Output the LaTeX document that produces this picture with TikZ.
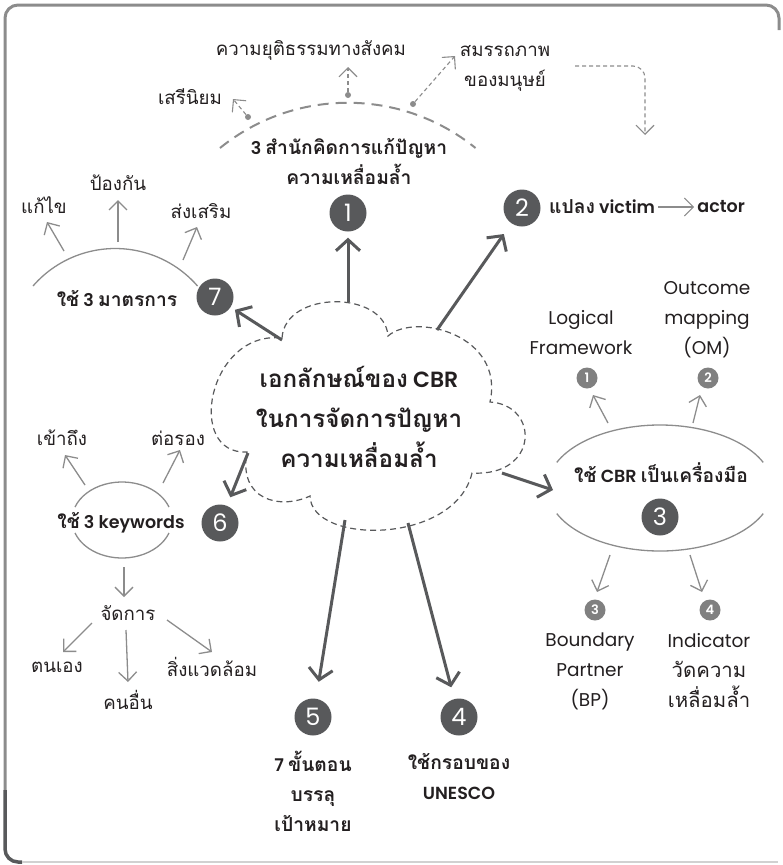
\documentclass[tikz,border=0pt]{standalone}
\usepackage{fontspec}
\setmainfont{Poppins}[BoldFont={Poppins SemiBold}]
\newfontfamily\thf[Script=Thai,Scale=1.1]{Loma}
\newcommand\tx[1]{{\thf #1}}
\usetikzlibrary{arrows.meta}
\definecolor{dk}{HTML}{58595B}
\definecolor{txt}{HTML}{231F20}
\definecolor{gr}{HTML}{8C8C8C}
\definecolor{sm}{HTML}{808080}
\begin{document}
\begin{tikzpicture}[x=1pt,y=1pt,
  barr/.style={draw=dk, line width=3pt, -{Straight Barb[length=11pt,width=24pt]}},
  garr/.style={draw=gr, line width=1.3pt, -{Straight Barb[length=9pt,width=18pt]}},
  dgarr/.style={garr, line width=1.1pt, dash pattern=on 4pt off 3pt},
  gline/.style={draw=gr, line width=1.3pt},
  num/.style={circle, fill=dk, text=white, minimum size=37pt, inner sep=0pt, font=\fontsize{24}{24}\selectfont},
  snum/.style={circle, fill=sm, text=white, minimum size=21pt, inner sep=0pt, font=\bfseries\fontsize{13}{13}\selectfont},
  lbl/.style={text=txt, align=center, inner sep=0pt, font=\fontsize{17}{30}\selectfont},
  llbl/.style={text=txt, align=center, inner sep=0pt, font=\fontsize{18.5}{30}\selectfont},
  blbl/.style={text=txt, align=center, inner sep=0pt, font=\bfseries\fontsize{17.5}{30}\selectfont},
  cl/.style={text=txt, align=center, inner sep=0pt, font=\bfseries\fontsize{22}{40}\selectfont},
  dot/.style={circle, fill=gr, inner sep=0pt, minimum size=6pt}
]
\useasboundingbox (0,0) rectangle (783,-865);

% frame
\draw[draw=gr, line width=3pt] (5,-790) -- (5,-18) arc[start angle=180,end angle=90,radius=13] -- (766,-5) arc[start angle=90,end angle=0,radius=13] -- (779,-30);
\draw[draw=dk, line width=3.5pt] (5,-790) -- (5,-849) arc[start angle=180,end angle=270,radius=13] -- (22,-862);
\draw[draw=black!18, line width=1.2pt] (22,-862) -- (778,-862);

% cloud
\draw[draw=dk, line width=1.2pt, dash pattern=on 6pt off 4pt]
  (282,-338) .. controls (285,-290) and (385,-290) .. (388,-336)
  .. controls (415,-312) and (505,-335) .. (490,-402)
  .. controls (540,-405) and (539,-477) .. (472,-473)
  .. controls (455,-545) and (311,-545) .. (310,-496)
  .. controls (280,-510) and (238,-500) .. (247,-452)
  .. controls (185,-455) and (208,-330) .. (282,-338);
\node[cl] (cloud) at (359,-417) {\tx{เอกลักษณ์ของ} CBR\\\tx{ในการจัดการปัญหา}\\\tx{ความเหลื่อมล้ำ}};
\coordinate (cA) at (348,-302);
\coordinate (cB) at (437,-330);
\coordinate (cC) at (282,-340);
\coordinate (cD) at (248,-453);
\coordinate (cE) at (502,-473);
\coordinate (cF) at (345,-520);
\coordinate (cG) at (408,-523);

% numbered circles
\node[num] (n1) at (348,-213) {1};
\node[num] (n2) at (522,-208) {2};
\node[num] (n3) at (660,-517) {3};
\node[num] (n4) at (459,-717) {4};
\node[num] (n5) at (313,-717) {5};
\node[num] (n6) at (220,-523) {6};
\node[num] (n7) at (215,-297) {7};

% thick arrows
\draw[barr, shorten >=6pt] (cA) -- (n1);
\draw[barr, shorten >=13pt] (cB) -- (n2);
\draw[barr, shorten >=5pt] (cC) -- (n7);
\draw[barr, shorten >=9pt] (cD) -- (n6);
\coordinate (e3tip) at (553,-490);
\draw[barr] (cE) -- (e3tip);
\draw[barr, shorten >=17pt] (cF) -- (n5);
\draw[barr, shorten >=12pt] (cG) -- (n4);

% ---- top: 3 schools
\draw[draw=gr, line width=2pt, dash pattern=on 11pt off 7pt] (220,-148) arc[start angle=129, end angle=51, radius=203];
\node[blbl] (t1) at (349,-162) {3 \tx{สำนักคิดการแก้ปัญหา}\\\tx{ความเหลื่อมล้ำ}};
\node[dot] (d1) at (248,-117) {};
\node[dot] (d2) at (348,-95) {};
\node[dot] (d3) at (413,-104) {};
\node[lbl] (lib) at (190,-97) {\tx{เสรีนิยม}};
\node[lbl] (soc) at (311,-50) {\tx{ความยุติธรรมทางสังคม}};
\node[lbl] (capb) at (505,-68) {\tx{สมรรถภาพ}\\\tx{ของมนุษย์}};
\coordinate (d1t) at (233,-99);
\coordinate (d2t) at (348,-67);
\coordinate (d3t) at (455,-56);
\draw[dgarr] (d1) -- (d1t);
\draw[dgarr] (d2) -- (d2t);
\draw[dgarr] (d3) -- (d3t);
\coordinate (el0) at (575,-66);
\coordinate (el1) at (645,-66);
\coordinate (el2) at (645,-135);
\draw[dgarr, rounded corners=12pt] (el0) -- (el1) -- (el2);

% ---- 2
\node[blbl, anchor=west] (vic) at (549,-207) {\tx{แปลง} victim};
\node[blbl, anchor=west] (act) at ([xshift=42pt]vic.east) {actor};
\draw[garr, line width=1.1pt, shorten <=3pt, shorten >=3pt] (vic.east) -- (act.west);

% ---- 7: three measures
\draw[gline] (33,-286) arc[start angle=139, end angle=41, radius=109];
\node[blbl] (m7) at (117,-298) {\tx{ใช้} 3 \tx{มาตรการ}};
\node[lbl] (fix) at (44,-205) {\tx{แก้ไข}};
\node[lbl] (prev) at (118,-183) {\tx{ป้องกัน}};
\node[lbl] (prom) at (201,-211) {\tx{ส่งเสริม}};
\coordinate (a71) at (64,-251); \coordinate (a71t) at (47,-222);
\coordinate (a72) at (118,-242); \coordinate (a72t) at (118,-200);
\coordinate (a73) at (183,-260); \coordinate (a73t) at (197,-227);
\draw[garr] (a71) -- (a71t);
\draw[garr] (a72) -- (a72t);
\draw[garr] (a73) -- (a73t);

% ---- 6: three keywords
\draw[gline] (122,-520) ++(20:50 and 38) arc[start angle=20,end angle=160,x radius=50,y radius=38];
\draw[gline] (122,-520) ++(200:50 and 38) arc[start angle=200,end angle=340,x radius=50,y radius=38];
\node[blbl] (k6) at (121,-523) {\tx{ใช้} 3 keywords};
\node[lbl] (acc) at (62,-438) {\tx{เข้าถึง}};
\node[lbl] (neg) at (178,-438) {\tx{ต่อรอง}};
\node[lbl] (man) at (128,-613) {\tx{จัดการ}};
\node[lbl] (self) at (57,-667) {\tx{ตนเอง}};
\node[lbl] (oth) at (128,-700) {\tx{คนอื่น}};
\node[lbl] (env) at (212,-667) {\tx{สิ่งแวดล้อม}};
\coordinate (a61) at (85,-485); \coordinate (a61t) at (65,-455);
\coordinate (a62) at (163,-483); \coordinate (a62t) at (180,-450);
\coordinate (a63) at (124,-567); \coordinate (a63t) at (124,-597);
\draw[garr] (a61) -- (a61t);
\draw[garr] (a62) -- (a62t);
\draw[garr] (a63) -- (a63t);
\coordinate (b1) at (92,-623); \coordinate (b1t) at (63,-652);
\coordinate (b2) at (126,-630); \coordinate (b2t) at (128,-682);
\coordinate (b3) at (167,-620); \coordinate (b3t) at (212,-652);
\draw[garr] (b1) -- (b1t);
\draw[garr] (b2) -- (b2t);
\draw[garr] (b3) -- (b3t);

% ---- 3: CBR as a tool
\draw[gline] (660,-488) ++(24:113 and 63) arc[start angle=24,end angle=156,x radius=113,y radius=63];
\draw[gline] (660,-488) ++(204:113 and 63) arc[start angle=204,end angle=336,x radius=113,y radius=63];
\node[blbl] (tool) at (661,-473) {\tx{ใช้} CBR \tx{เป็นเครื่องมือ}};
\node[snum] (s1) at (587,-378) {1};
\node[snum] (s2) at (708,-378) {2};
\node[snum] (s3) at (595,-610) {3};
\node[snum] (s4) at (710,-610) {4};
\node[llbl] (lf) at (581,-333) {Logical\\Framework};
\node[llbl] (om) at (707,-320) {Outcome\\mapping\\(OM)};
\node[llbl] (bp) at (590,-671) {Boundary\\Partner\\(BP)};
\node[llbl] (ind) at (709,-671) {Indicator\\\tx{วัดความ}\\\tx{เหลื่อมล้ำ}};
\coordinate (r1) at (608,-423); \coordinate (r1t) at (593,-395);
\coordinate (r2) at (693,-423); \coordinate (r2t) at (700,-395);
\coordinate (r3) at (610,-555); \coordinate (r3t) at (597,-592);
\coordinate (r4) at (690,-555); \coordinate (r4t) at (702,-592);
\draw[garr] (r1) -- (r1t);
\draw[garr] (r2) -- (r2t);
\draw[garr] (r3) -- (r3t);
\draw[garr] (r4) -- (r4t);

% ---- 5 and 4 labels
\node[blbl] (g5) at (313,-791) {7 \tx{ขั้นตอน}\\\tx{บรรลุ}\\\tx{เป้าหมาย}};
\node[blbl] (g4) at (459,-777) {\tx{ใช้กรอบของ}\\UNESCO};
\end{tikzpicture}
\end{document}
